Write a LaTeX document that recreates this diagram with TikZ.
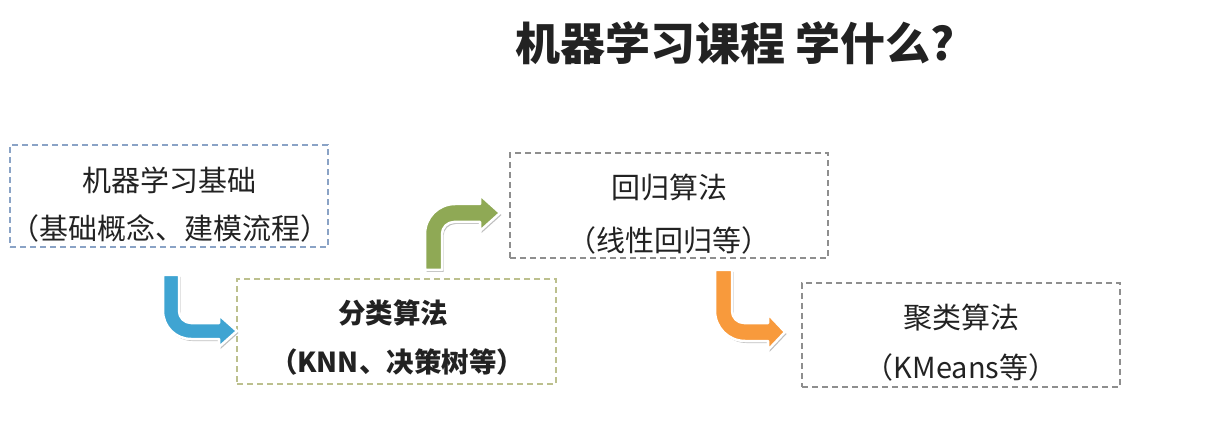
\documentclass[tikz,border=0pt]{standalone}
\usepackage{fontspec}
\newfontfamily\cjk{Noto Sans CJK SC}
\usetikzlibrary{shadows}
\definecolor{txt}{HTML}{222222}
\definecolor{bluearr}{HTML}{3FA4D2}
\definecolor{greenarr}{HTML}{8FA955}
\definecolor{orangearr}{HTML}{F89A3C}
\definecolor{edgeblue}{HTML}{8AA3C6}
\definecolor{edgeolive}{HTML}{BCC08E}
\definecolor{edgegray}{HTML}{8E8E8E}
\tikzset{
  boxbase/.style={draw, rectangle, line width=1.3pt, dash pattern=on 6pt off 4pt, inner sep=0pt},
  bodytext/.style={text=txt, font=\cjk\fontsize{29}{34}\selectfont, inner sep=0pt},
  boldtext/.style={text=txt, font=\cjk\bfseries\fontsize{27.5}{32}\selectfont, inner sep=0pt},
  bentarrow/.style={draw=white, line width=2.5pt, line join=round,
     drop shadow={shadow xshift=1.5pt, shadow yshift=-2pt, opacity=0.25, fill=black}}
}
\begin{document}
\begin{tikzpicture}[x=1pt,y=-1pt]
\useasboundingbox (0,0) rectangle (1206,435);
\fill[white] (0,0) rectangle (1206,435);

% title
\node[text=txt, font=\cjk\bfseries\fontsize{45}{52}\selectfont, inner sep=0pt] (title) at (735,43) {机器学习课程 学什么?};

% boxes
\node[boxbase, draw=edgeblue, minimum width=318pt, minimum height=102pt] (b1) at (169,196) {};
\node[boxbase, draw=edgeolive, minimum width=319pt, minimum height=105pt] (b2) at (396.5,331.5) {};
\node[boxbase, draw=edgegray, minimum width=318pt, minimum height=105pt] (b3) at (669,205.5) {};
\node[boxbase, draw=edgegray, minimum width=318pt, minimum height=104pt] (b4) at (961,335) {};

% box texts
\node[bodytext] (t1a) at (169,180) {机器学习基础};
\node[bodytext] (t1b) at (170,228) {（基础概念、建模流程）};
\node[boldtext] (t2a) at (393,313) {分类算法};
\node[boldtext] (t2b) at (397,362) {（KNN、决策树等）};
\node[bodytext] (t3a) at (669,187) {回归算法};
\node[bodytext] (t3b) at (669,240) {（线性回归等）};
\node[bodytext] (t4a) at (961,318) {聚类算法};
\node[bodytext] (t4b) at (961,367) {（KMeans等）};

% blue bent arrow (down then right)
\path[bentarrow, fill=bluearr]
  (163,275) -- (179,275) -- (179,311)
  .. controls (179,317.6) and (184.4,323) .. (191,323)
  -- (219,323) -- (219,315) -- (237,331) -- (219,347) -- (219,339)
  -- (191,339)
  .. controls (175.5,339) and (163,326.5) .. (163,311) -- cycle;

% green bent arrow (up then right)
\path[bentarrow, fill=greenarr]
  (425,270) -- (425,234)
  .. controls (425,217.4) and (438.4,204) .. (455,204)
  -- (480,204) -- (480,195) -- (500,213) -- (480,231) -- (480,222)
  -- (454,222)
  .. controls (447.4,222) and (442,227.4) .. (442,234)
  -- (442,270) -- cycle;

% orange bent arrow (down then right)
\path[bentarrow, fill=orangearr]
  (715,270) -- (732,270) -- (732,311)
  .. controls (732,317.6) and (737.4,323) .. (744,323)
  -- (768,323) -- (768,314) -- (785,332) -- (768,350) -- (768,341)
  -- (745,341)
  .. controls (728.4,341) and (715,327.6) .. (715,311) -- cycle;
\end{tikzpicture}
\end{document}
